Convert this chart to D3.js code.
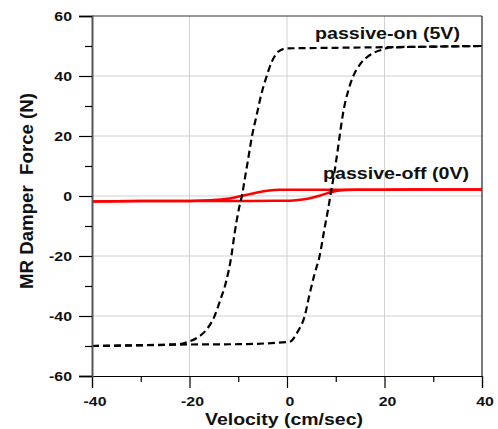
<!DOCTYPE html>
<html>
<head>
<meta charset="utf-8">
<script src="https://cdn.jsdelivr.net/npm/d3@7"></script>
<style>
  body { margin: 0; background: #fff; }
  text { font-family: Arial, "Liberation Sans", sans-serif; font-weight: bold; fill: #111; }
</style>
</head>
<body>
<div id="chart"></div>
<script>
// passive-on (5V): upper branch (velocity going down) and lower branch (going up)
var onUpperV = [-40, -30, -22, -20.3, -18.6, -16.6, -14.9, -13.8, -12.5, -11.4, -10.8, -9.7, -9.25, -8.7, -8.0, -7.2, -6.3, -5.3, -4.2, -3.1, -1.8, -0.1, 10, 20, 30, 40];
var onUpperF = [-50, -49.8, -49.4, -48.6, -47.4, -44.7, -40.2, -35.2, -28.6, -19.9, -13, -3, 0, 5.3, 12, 19.8, 26.4, 33.7, 39.8, 44.8, 48.1, 49.2, 49.4, 49.6, 49.8, 50];
var onLowerV = [-40, -30, -20, -10, 0.5, 2.2, 3.6, 4.6, 5.6, 6.7, 7.7, 8.4, 9.1, 9.7, 10.4, 10.8, 11.5, 12.6, 13.6, 14.9, 17, 19.3, 21.4, 30, 40];
var onLowerF = [-50, -49.7, -49.5, -49.4, -48.6, -45.2, -40.2, -33, -26.3, -19.9, -10.8, -4.7, 2, 7.6, 15.3, 20, 27.6, 35.3, 40, 43.7, 47, 48.7, 49.5, 49.8, 50];

// passive-off (0V)
var offUpperV = [-40, -30, -20, -17, -14.5, -11.8, -9.1, -6.3, -4.8, -3.2, -1.5, 0, 10, 20, 30, 40];
var offUpperF = [-1.8, -1.7, -1.65, -1.5, -1.25, -0.8, 0.1, 1.1, 1.6, 1.9, 2.05, 2.1, 2.1, 2.1, 2.2, 2.2];
var offLowerV = [-40, -30, -20, -10, -2, 0.5, 2.3, 3.9, 5.3, 6.7, 8, 9.4, 10.8, 12.1, 14, 20, 30, 40];
var offLowerF = [-1.8, -1.7, -1.7, -1.65, -1.6, -1.55, -1.35, -1.0, -0.5, 0.1, 0.8, 1.4, 1.8, 2.0, 2.1, 2.1, 2.2, 2.2];

var xTicks = [-40, -20, 0, 20, 40];
var yTicks = [-60, -40, -20, 0, 20, 40, 60];

var margin = { top: 16, right: 16, bottom: 53, left: 92 };
var totalWidth = 498, totalHeight = 429;
var width = totalWidth - margin.left - margin.right;
var height = totalHeight - margin.top - margin.bottom;

var x = d3.scaleLinear().domain([-40, 40]).range([0, width]);
var y = d3.scaleLinear().domain([-60, 60]).range([height, 0]);

var svg = d3.select('#chart')
  .append('svg')
  .attr('width', totalWidth)
  .attr('height', totalHeight);

var main = svg.append('g')
  .attr('transform', 'translate(' + margin.left + ',' + margin.top + ')');

// The original lettering is wide, so stretch text horizontally
function stretch(sel, factor) {
  sel.each(function() {
    var len = this.getComputedTextLength();
    d3.select(this)
      .attr('textLength', len * factor)
      .attr('lengthAdjust', 'spacingAndGlyphs');
  });
}

// Grid lines
main.append('g').selectAll('line')
  .data(xTicks.slice(1, -1))
  .enter().append('line')
  .attr('x1', function(d) { return x(d); })
  .attr('x2', function(d) { return x(d); })
  .attr('y1', 0).attr('y2', height)
  .attr('stroke', '#d0d0d0').attr('stroke-width', 1);

main.append('g').selectAll('line')
  .data(yTicks.slice(1, -1))
  .enter().append('line')
  .attr('y1', function(d) { return y(d); })
  .attr('y2', function(d) { return y(d); })
  .attr('x1', 0).attr('x2', width)
  .attr('stroke', '#d0d0d0').attr('stroke-width', 1);

// Frame (top / right)
main.append('line').attr('x1', 0).attr('x2', width).attr('y1', 0).attr('y2', 0)
  .attr('stroke', '#333').attr('stroke-width', 1);
main.append('line').attr('x1', width).attr('x2', width).attr('y1', 0).attr('y2', height)
  .attr('stroke', '#222').attr('stroke-width', 1.2);

// Curves
function pts(vs, fs) {
  return vs.map(function(v, i) { return [v, fs[i]]; });
}
var line = d3.line()
  .x(function(d) { return x(d[0]); })
  .y(function(d) { return y(d[1]); })
  .curve(d3.curveMonotoneX);

[pts(offUpperV, offUpperF), pts(offLowerV, offLowerF)].forEach(function(p) {
  main.append('path')
    .datum(p)
    .attr('d', line)
    .attr('fill', 'none')
    .attr('stroke', '#ff0000')
    .attr('stroke-width', 2.5);
});

[pts(onUpperV, onUpperF), pts(onLowerV, onLowerF)].forEach(function(p) {
  main.append('path')
    .datum(p)
    .attr('d', line)
    .attr('fill', 'none')
    .attr('stroke', '#000')
    .attr('stroke-width', 2.2)
    .attr('stroke-dasharray', '7,4');
});

// X axis
var xAxis = main.append('g')
  .attr('transform', 'translate(0,' + height + ')')
  .call(d3.axisBottom(x).tickValues(xTicks).tickSize(12).tickPadding(9)
    .tickFormat(function(d) { return String(d); }));
xAxis.select('.domain').attr('stroke', '#000').attr('stroke-width', 1.2);
xAxis.selectAll('.tick line').attr('stroke', '#000').attr('stroke-width', 1.2);
xAxis.selectAll('.tick text')
  .attr('dx', 2.5)
  .style('font-size', '12.5px').style('font-weight', 'bold').style('fill', '#111')
  .call(stretch, 1.27);
main.append('g')
  .attr('transform', 'translate(0,' + height + ')')
  .call(d3.axisBottom(x).tickValues([-30, -10, 10, 30]).tickSize(6).tickFormat(''))
  .call(function(g) { g.select('.domain').remove(); })
  .selectAll('.tick line').attr('stroke', '#000').attr('stroke-width', 1.2);

// Y axis
var yAxis = main.append('g')
  .call(d3.axisLeft(y).tickValues(yTicks).tickSize(13).tickPadding(7)
    .tickFormat(function(d) { return String(d); }));
yAxis.select('.domain').attr('stroke', '#555').attr('stroke-width', 2);
yAxis.selectAll('.tick line').attr('stroke', '#000').attr('stroke-width', 1.2);
yAxis.selectAll('.tick text')
  .style('font-size', '12.5px').style('font-weight', 'bold').style('fill', '#111')
  .call(stretch, 1.27);
main.append('g')
  .call(d3.axisLeft(y).tickValues([-50, -30, -10, 10, 30, 50]).tickSize(7).tickFormat(''))
  .call(function(g) { g.select('.domain').remove(); })
  .selectAll('.tick line').attr('stroke', '#000').attr('stroke-width', 1.2);

// Axis titles
svg.append('text')
  .attr('x', 284)
  .attr('y', 425)
  .attr('text-anchor', 'middle')
  .style('font-size', '16px')
  .attr('textLength', 158)
  .attr('lengthAdjust', 'spacingAndGlyphs')
  .text('Velocity (cm/sec)');

svg.append('text')
  .attr('transform', 'translate(33,191) scale(1.25,1) rotate(-90)')
  .attr('text-anchor', 'middle')
  .style('font-size', '14.5px')
  .style('white-space', 'pre')
  .attr('textLength', 196)
  .attr('lengthAdjust', 'spacingAndGlyphs')
  .text('MR Damper  Force (N)');

// Curve labels
svg.append('text')
  .attr('x', 315)
  .attr('y', 39)
  .style('font-size', '16px')
  .attr('textLength', 145)
  .attr('lengthAdjust', 'spacingAndGlyphs')
  .text('passive-on (5V)');

svg.append('text')
  .attr('x', 323)
  .attr('y', 179)
  .style('font-size', '16px')
  .attr('textLength', 146)
  .attr('lengthAdjust', 'spacingAndGlyphs')
  .text('passive-off (0V)');
</script>
</body>
</html>
